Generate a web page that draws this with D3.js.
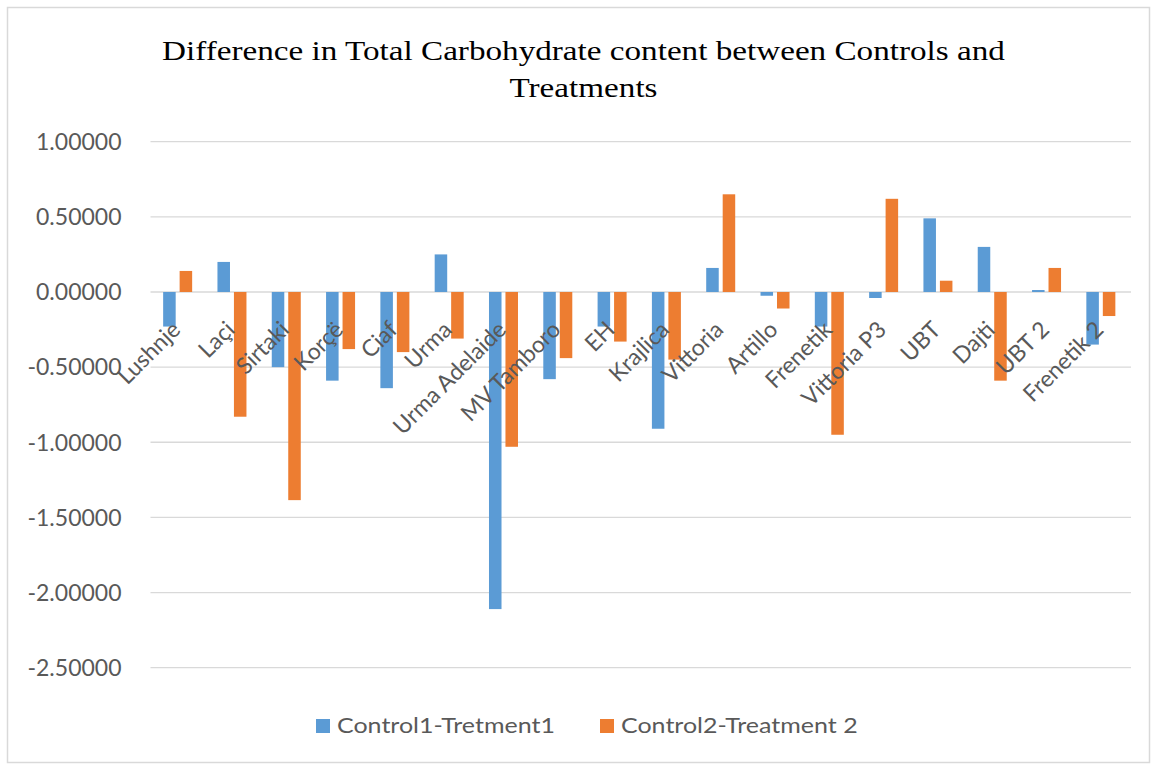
<!DOCTYPE html>
<html><head><meta charset="utf-8">
<script src="https://cdn.jsdelivr.net/npm/d3@7"></script>
<style>body{margin:0;background:#fff}</style>
</head><body>
<svg id="c" width="1153" height="765"></svg>
<script>
const categories = ["Lushnje","Laçi","Sirtaki","Korçë","Ciaf","Urma","Urma Adelaide","MV Tamboro","EH","Krajlica","Vittoria","Artillo","Frenetik","Vittoria P3","UBT","Dajti","UBT 2","Frenetik 2"];
const series = ["Control1-Tretment1","Control2-Treatment 2"];
const control1 = [-0.23,0.20,-0.50,-0.59,-0.64,0.25,-2.11,-0.58,-0.23,-0.91,0.16,-0.025,-0.23,-0.04,0.49,0.30,0.013,-0.35];
const control2 = [0.14,-0.83,-1.385,-0.38,-0.40,-0.31,-1.03,-0.44,-0.33,-0.45,0.65,-0.11,-0.95,0.62,0.075,-0.59,0.16,-0.16];
const yTicks = [1.0,0.5,0,-0.5,-1.0,-1.5,-2.0,-2.5];
const titleLines = ["Difference in Total Carbohydrate content between Controls and","Treatments"];
const colors = ["#5B9BD5","#ED7D31"];

const svg = d3.select("#c");
const plotL = 150.5, plotR = 1128, plotT = 141.7, plotB = 667.7;
const gridR = 1131;

// chart border
svg.append("rect").attr("x",7.5).attr("y",7.5).attr("width",1142).attr("height",755)
  .attr("fill","#fff").attr("stroke","#d9d9d9").attr("stroke-width",1.5);

const y = d3.scaleLinear().domain([-2.5,1.0]).range([plotB,plotT]);
const x0 = d3.scaleBand().domain(categories).range([plotL,plotR]).padding(0);
const groupW = 29;
const x1 = d3.scaleBand().domain(series).range([0,groupW]).paddingInner(0.24).paddingOuter(0);

// gridlines
svg.append("g").selectAll("line").data(yTicks).join("line")
  .attr("x1",plotL).attr("x2",gridR)
  .attr("y1",d=>y(d)).attr("y2",d=>y(d))
  .attr("stroke","#d9d9d9").attr("stroke-width",1.3);

// y tick labels
svg.append("g").selectAll("text").data(yTicks).join("text")
  .attr("x",121.5).attr("y",d=>y(d)).attr("dy","0.36em")
  .attr("text-anchor","end")
  .attr("font-family","Lato, 'Open Sans', sans-serif").attr("font-size",23)
  .attr("fill","#595959")
  .text(d=>d3.format(".5f")(d).replace("−","-"));

// bars
const rows = categories.map((c,i)=>({c, vals:[control1[i],control2[i]]}));
const g = svg.append("g");
rows.forEach(r=>{
  const cx = x0(r.c) + x0.bandwidth()/2 - groupW/2;
  r.vals.forEach((v,j)=>{
    g.append("rect")
      .attr("x", cx + x1(series[j]))
      .attr("width", x1.bandwidth())
      .attr("y", y(Math.max(0,v)))
      .attr("height", Math.abs(y(v)-y(0)))
      .attr("fill", colors[j]);
  });
});

// title
const tf = "'Liberation Serif','Times New Roman',serif";
const tmp = svg.append("text").attr("font-family",tf).attr("font-size",28).text(titleLines[0]);
const tsx = 843 / tmp.node().getComputedTextLength();
tmp.remove();
const titleY = [60, 96.7];
titleLines.forEach((t,i)=>{
  svg.append("text")
    .attr("transform",`translate(583.5,${titleY[i]}) scale(${tsx},1)`)
    .attr("text-anchor","middle")
    .attr("font-family",tf).attr("font-size",28).attr("fill","#000")
    .text(t);
});

// legend
const lf = "Lato, 'Open Sans', sans-serif";
const tmp2 = svg.append("text").attr("font-family",lf).attr("font-size",21).text(series[0]);
const lsx = 218 / tmp2.node().getComputedTextLength();
tmp2.remove();
const legX = [316, 600];
series.forEach((s,j)=>{
  svg.append("rect").attr("x",legX[j]).attr("y",719).attr("width",14).attr("height",14).attr("fill",colors[j]);
  svg.append("text")
    .attr("transform",`translate(${legX[j]+21},733) scale(${lsx},1)`)
    .attr("font-family",lf).attr("font-size",21).attr("fill","#595959")
    .text(s);
});

// x labels (rotated)
svg.append("g").selectAll("text").data(categories).join("text")
  .attr("transform",d=>`translate(${x0(d)+x0.bandwidth()/2-4},${y(0)+31}) rotate(-45)`)
  .attr("text-anchor","end").attr("dy","0.5em")
  .attr("font-family",lf).attr("font-size",23).attr("fill","#595959")
  .text(d=>d);
</script>
</body></html>
